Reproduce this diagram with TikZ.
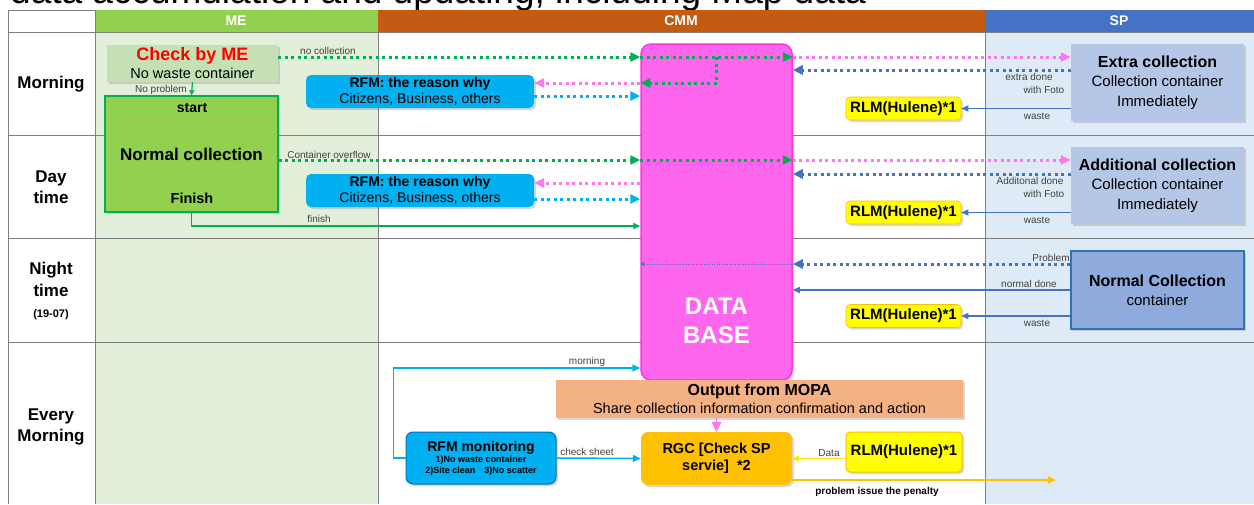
\documentclass[tikz,border=0pt]{standalone}
\usepackage{fontspec}
\setmainfont{Liberation Sans}
\usepackage{xcolor}
\usetikzlibrary{arrows.meta,shadows,positioning}

\definecolor{megreen}{HTML}{92D050}
\definecolor{mebg}{HTML}{E2EFDA}
\definecolor{cmmorange}{HTML}{C55A11}
\definecolor{spblue}{HTML}{4472C4}
\definecolor{spbg}{HTML}{DEEBF7}
\definecolor{chkgreen}{HTML}{C5E0B4}
\definecolor{darkgreen}{HTML}{00B050}
\definecolor{rfmcyan}{HTML}{00B0F0}
\definecolor{dbpink}{HTML}{FF66EE}
\definecolor{dbedge}{HTML}{FF33DD}
\definecolor{arrpink}{HTML}{FF77EE}
\definecolor{rlmyellow}{HTML}{FFFF00}
\definecolor{datayellow}{HTML}{FFE600}
\definecolor{rgcorange}{HTML}{FFC000}
\definecolor{xcolblue}{HTML}{B4C7E7}
\definecolor{ncblue}{HTML}{8FAADC}
\definecolor{ncedge}{HTML}{2E75B6}
\definecolor{mopaorange}{HTML}{F4B183}
\definecolor{gridgray}{HTML}{7F7F7F}
\definecolor{monedge}{HTML}{0070C0}

\newcommand{\fsz}[2]{\fontsize{#1}{#2}\selectfont}

\begin{document}
\begin{tikzpicture}[x=1pt,y=-1pt,
    grid/.style={draw=gridgray,line width=0.8pt},
    hdr/.style={text=white,font=\fsz{14}{16}\bfseries,inner sep=0pt},
    rowlbl/.style={align=center,font=\fsz{17}{21.5}\bfseries,inner sep=0pt},
    box/.style={inner sep=0pt,align=center,drop shadow={shadow xshift=2pt,shadow yshift=-2pt,opacity=0.3}},
    rfm/.style={box,fill=rfmcyan,rounded corners=5pt,minimum width=228pt,minimum height=33pt,font=\fsz{14}{16.5}},
    rlm/.style={box,fill=rlmyellow,draw=rgcorange,line width=0.6pt,rounded corners=4pt,minimum width=115pt,minimum height=23pt,font=\fsz{15}{17}\bfseries},
    spbox/.style={box,fill=xcolblue,minimum width=173pt,minimum height=77pt,font=\fsz{15}{19.5}},
    lbl/.style={font=\fsz{10}{12},text=black!75,inner sep=0pt},
    dotline/.style={line width=3pt,dash pattern=on 3pt off 3.5pt,-{Triangle[length=10pt,width=9pt]}},
    gdot/.style={dotline,draw=darkgreen},
    pdot/.style={dotline,draw=arrpink},
    cdot/.style={dotline,draw=rfmcyan},
    bdot/.style={dotline,draw=spblue},
    bline/.style={draw=spblue,line width=1.5pt,-{Triangle[length=7pt,width=6pt]}}]
\useasboundingbox (0,0) rectangle (1254,504);

% title, cut at the top
\node[anchor=base west,font=\fsz{37}{40},inner sep=0pt] (ttl) at (10,3) {data accumulation and updating, including Map data};

% lanes
\fill[white] (8,10) rectangle (1254,504);
\fill[mebg] (95,32) rectangle (378,504);
\fill[spbg] (985,32) rectangle (1254,504);
\fill[megreen] (95,10) rectangle (378,32);
\fill[cmmorange] (378,10) rectangle (985,32);
\fill[spblue] (985,10) rectangle (1254,32);
\draw[grid] (8,10) -- (95,10);
\foreach \y in {32,135,238,342} \draw[grid] (8,\y) -- (1254,\y);
\foreach \x in {8,95} \draw[grid] (\x,10) -- (\x,504);
\foreach \x in {378,985} \draw[grid] (\x,32) -- (\x,504);

\node[hdr] (hme) at (236,21) {ME};
\node[hdr] (hcmm) at (681,21) {CMM};
\node[hdr] (hsp) at (1119,21) {SP};

\node[rowlbl] (rmorn) at (51,84) {Morning};
\node[rowlbl] (rday) at (51,187) {Day\\time};
\node[rowlbl] (rnight) at (51,291) {Night\\time\\{\fsz{11}{19}(19-07)}};
\node[rowlbl] (revery) at (51,427) {Every\\Morning};

% boxes
\node[box,fill=chkgreen,minimum width=171pt,minimum height=37pt,font=\fsz{14.5}{18}] (chk) at (192.5,63.5)
    {{\fsz{18}{18}\bfseries\color{red}Check by ME}\\No waste container};
\node[box,fill=megreen,draw=darkgreen,line width=1.5pt,minimum width=173pt,minimum height=116pt,font=\fsz{17}{20}\bfseries] (ncol) at (191.5,154) {Normal collection};
\node[font=\fsz{14}{16}\bfseries,inner sep=0pt] (nstart) at (192,108) {start};
\node[font=\fsz{14.5}{16}\bfseries,inner sep=0pt] (nfin) at (192,198) {Finish};

\node[box,draw=dbedge,fill=dbpink,line width=1.5pt,rounded corners=10pt,minimum width=151pt,minimum height=336pt] (db) at (716.5,212) {};
\node[text=white,font=\fsz{24}{29}\bfseries,align=center,inner sep=0pt] (dbl) at (716.5,321) {DATA\\BASE};

\node[rfm] (rfma) at (420,91.5) {{\bfseries RFM: the reason why}\\Citizens, Business, others};
\node[rfm] (rfmb) at (420,190.5) {{\bfseries RFM: the reason why}\\Citizens, Business, others};

\node[rlm] (rlma) at (903.5,108.5) {RLM(Hulene)*1};
\node[rlm] (rlmb) at (903.5,212.5) {RLM(Hulene)*1};
\node[rlm] (rlmc) at (903.5,316) {RLM(Hulene)*1};

\node[spbox] (xcol) at (1157.5,82.5) {{\fsz{16}{19.5}\bfseries Extra collection}\\Collection container\\Immediately};
\node[spbox] (acol) at (1157.5,185.5) {{\fsz{16}{19.5}\bfseries Additional collection}\\Collection container\\Immediately};
\node[box,fill=ncblue,draw=ncedge,line width=1.5pt,minimum width=173pt,minimum height=78pt,font=\fsz{15}{19}] (nc) at (1157.5,290)
    {{\fsz{16}{19}\bfseries Normal Collection}\\container};

\node[box,fill=mopaorange,minimum width=407pt,minimum height=38pt,font=\fsz{14.5}{18}] (mopa) at (759.5,399)
    {{\fsz{16}{18}\bfseries Output from MOPA}\\Share collection information confirmation and action};
\node[box,fill=rfmcyan,draw=monedge,line width=1pt,rounded corners=7pt,minimum width=150pt,minimum height=52pt,font=\fsz{9}{11}\bfseries] (rfmm) at (481,458)
    {{\fsz{14}{15}\bfseries RFM monitoring}\\1)No waste container\\2)Site clean\quad 3)No scatter};
\node[box,fill=rgcorange,rounded corners=7pt,minimum width=151pt,minimum height=53pt,font=\fsz{14.5}{17}\bfseries] (rgc) at (716.5,458.5) {RGC [Check SP\\servie]\ \ *2};
\node[rlm,line width=1pt,minimum width=116pt,minimum height=40pt] (rlmd) at (904,452) {RLM(Hulene)*1};
\coordinate (pen) at (1056,480);

% morning
\draw[darkgreen,line width=1.2pt,-{Triangle[length=5pt,width=5pt]}] (chk.south) -- (ncol.north);
\node[lbl] (lnoprob) at (161,90) {No problem};
\draw[gdot] (chk.east |- 0,57) -- (db.west |- 0,57);
\draw[gdot] (db.west |- 0,57) -- (db.east |- 0,57);
\draw[gdot] (db.north |- 0,57) -- (db.north |- 0,83) -- (db.west |- 0,83);
\node[lbl] (lnocol) at (328,51) {no collection};
\draw[pdot] (db.west |- 0,83) -- (rfma.east |- 0,83);
\draw[cdot] (rfma.east |- 0,96) -- (db.west |- 0,96);
\draw[pdot] (db.east |- 0,57) -- (xcol.west |- 0,57);
\draw[bdot] (xcol.west |- 0,70) -- (db.east |- 0,70);
\node[lbl] (lextra) at (1029,77) {extra done};
\node[lbl] (lfoto) at (1044,90) {with Foto};
\draw[bline] (xcol.west |- rlma.east) -- (rlma.east);
\node[lbl] (lwastea) at (1037,116) {waste};

% day time
\draw[gdot] (ncol.east |- 0,160) -- (db.west |- 0,160);
\draw[gdot] (db.west |- 0,160) -- (db.east |- 0,160);
\node[lbl] (lover) at (329,155) {Container overflow};
\draw[pdot] (db.west |- 0,183) -- (rfmb.east |- 0,183);
\draw[cdot] (rfmb.east |- 0,199) -- (db.west |- 0,199);
\draw[pdot] (db.east |- 0,160) -- (acol.west |- 0,160);
\draw[bdot] (acol.west |- 0,174) -- (db.east |- 0,174);
\node[lbl] (ladd) at (1030,181) {Additonal done};
\node[lbl] (lfotob) at (1044,194) {with Foto};
\draw[bline] (acol.west |- rlmb.east) -- (rlmb.east);
\node[lbl] (lwasteb) at (1037,220) {waste};
\draw[darkgreen,line width=1.5pt,-{Triangle[length=7pt,width=6pt]}] (ncol.south) |- (db.west |- 0,226);
\node[lbl] (lfinish) at (319,219) {finish};

% night time
\draw[bdot] (nc.west |- 0,264) -- (db.east |- 0,264);
\draw[spblue,line width=0.6pt,dotted,-{Triangle[length=4pt,width=4pt]}] (db.east |- 0,264) -- (db.west |- 0,264);
\node[lbl] (lprob) at (1051,258) {Problem};
\draw[bline] (nc.west |- 0,290) -- (db.east |- 0,290);
\node[lbl] (lnorm) at (1029,284) {normal done};
\draw[bline] (nc.west |- rlmc.east) -- (rlmc.east);
\node[lbl] (lwastec) at (1037,323) {waste};

% every morning
\draw[rfmcyan,line width=1.5pt,-{Triangle[length=8pt,width=7pt]}] (rfmm.west) -- ([xshift=-12pt]rfmm.west) |- (db.west |- 0,368);
\node[lbl] (lmorn) at (587,362) {morning};
\draw[rfmcyan,line width=1.5pt,-{Triangle[length=8pt,width=7pt]}] (rfmm.east) -- (rgc.west);
\node[lbl] (lcheck) at (587,452) {check sheet};
\draw[arrpink,line width=0.5pt,-{Triangle[length=10pt,width=10pt]}] (rgc.north |- mopa.south) -- (rgc.north);
\draw[datayellow,line width=1.5pt,-{Triangle[length=7pt,width=6pt]}] (rlmd.west |- rgc.east) -- (rgc.east);
\node[lbl] (ldata) at (829,453) {Data};
\draw[rgcorange,line width=2pt,-{Triangle[length=8pt,width=7pt]}] (rgc.east |- pen) -- (pen);
\node[lbl,font=\fsz{10}{12}\bfseries,text=black] (lpen) at (877,492) {problem issue the penalty};
\end{tikzpicture}
\end{document}
